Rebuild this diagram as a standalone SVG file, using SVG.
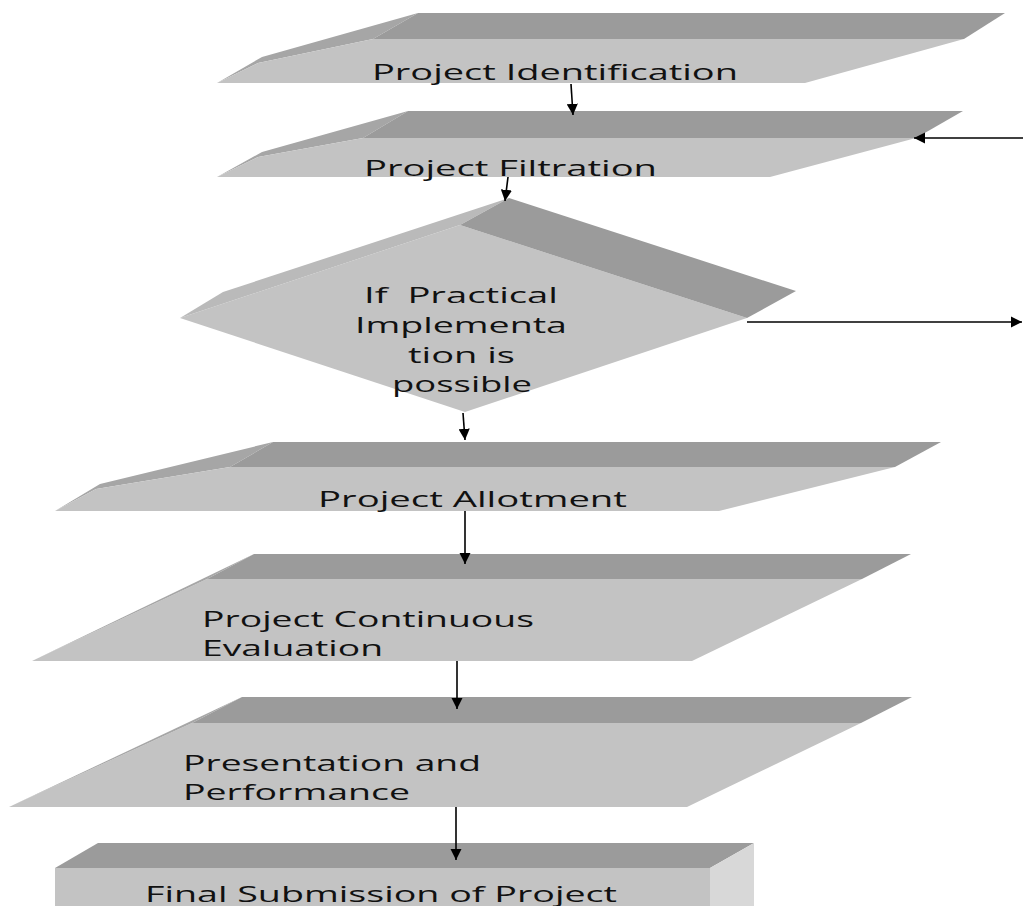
<svg xmlns="http://www.w3.org/2000/svg" width="1023" height="906" viewBox="0 0 1023 906">
<style>
.front{fill:#c3c3c3}
.top{fill:#9b9b9b}
.band{fill:#a6a6a6}
.bevel{fill:#bababa}
.side{fill:#d8d8d8}
.t{font-family:"Open Sans","DejaVu Sans",sans-serif;font-size:21px;fill:#111;white-space:pre}
.c{stroke:#000;stroke-width:1.6;fill:none;marker-end:url(#ah)}
</style>
<defs>
<marker id="ah" viewBox="0 0 10 10" refX="10" refY="5" markerWidth="7" markerHeight="7" markerUnits="strokeWidth" orient="auto">
<path d="M0,0 L10,5 L0,10 z" fill="#000"/>
</marker>
</defs>
<rect width="1023" height="906" fill="#fff"/>
<g id="n1">
<polygon class="band" points="217,83 262,57 418,13 373,39 258,63"/>
<polygon class="top" points="418,13 1005,13 964,39 373,39"/>
<polygon class="front" points="373,39 964,39 805,83 217,83 258,63"/>
<text class="t" x="372" y="80" textLength="366" lengthAdjust="spacingAndGlyphs">Project Identification</text>
</g>
<g id="n2">
<polygon class="band" points="217,177 262,152 408,111 363,138 258,157"/>
<polygon class="top" points="408,111 963,111 916,138 363,138"/>
<polygon class="front" points="363,138 916,138 770,177 217,177 258,157"/>
<text class="t" x="364" y="176" textLength="293" lengthAdjust="spacingAndGlyphs">Project Filtration</text>
</g>
<g id="n3">
<polygon class="front" points="460,225 747,318 465,412 180,318"/>
<polygon class="bevel" points="180,318 223,292 509,198 460,225"/>
<polygon class="top" points="460,225 509,198 796,291 747,318"/>
<text class="t" x="364" y="303" textLength="194" lengthAdjust="spacingAndGlyphs" xml:space="preserve">If  Practical</text>
<text class="t" x="355" y="333" textLength="212" lengthAdjust="spacingAndGlyphs">Implementa</text>
<text class="t" x="408" y="363" textLength="107" lengthAdjust="spacingAndGlyphs">tion is</text>
<text class="t" x="392" y="392" textLength="140" lengthAdjust="spacingAndGlyphs">possible</text>
</g>
<g id="n4">
<polygon class="band" points="55,511 100,484 273,442 230,467 96,489"/>
<polygon class="top" points="273,442 941,442 895,467 230,467"/>
<polygon class="front" points="230,467 895,467 719,511 55,511 96,489"/>
<text class="t" x="318" y="507" textLength="309" lengthAdjust="spacingAndGlyphs">Project Allotment</text>
</g>
<g id="n5">
<polygon class="front" points="207,579 862,579 692,661 32,661"/>
<polygon class="band" points="32,661 207,579 254,554"/>
<polygon class="top" points="254,554 911,554 862,579 207,579"/>
<text class="t" x="202" y="627" textLength="332" lengthAdjust="spacingAndGlyphs">Project Continuous</text>
<text class="t" x="202" y="656" textLength="181" lengthAdjust="spacingAndGlyphs">Evaluation</text>
</g>
<g id="n6">
<polygon class="front" points="192,723 861,723 687,807 9,807"/>
<polygon class="band" points="9,807 192,723 242,697"/>
<polygon class="top" points="242,697 912,697 861,723 192,723"/>
<text class="t" x="183" y="771" textLength="298" lengthAdjust="spacingAndGlyphs">Presentation and</text>
<text class="t" x="183" y="800" textLength="227" lengthAdjust="spacingAndGlyphs">Performance</text>
</g>
<g id="n7">
<polygon class="top" points="98,843 754,843 710,868 55,868"/>
<polygon class="side" points="710,868 754,843 754,906 710,906"/>
<rect class="front" x="55" y="868" width="655" height="40"/>
<text class="t" x="145" y="902" textLength="472" lengthAdjust="spacingAndGlyphs">Final Submission of Project</text>
</g>
<g id="connectors">
<line class="c" x1="571" y1="84" x2="573" y2="115"/>
<line class="c" x1="1023" y1="138" x2="914" y2="138"/>
<line class="c" x1="508" y1="177" x2="505" y2="201"/>
<line class="c" x1="747" y1="322" x2="1022" y2="322"/>
<line class="c" x1="463" y1="413" x2="465" y2="440"/>
<line class="c" x1="465" y1="511" x2="465" y2="564"/>
<line class="c" x1="457" y1="661" x2="457" y2="709"/>
<line class="c" x1="456" y1="807" x2="456" y2="860"/>
</g>
</svg>
